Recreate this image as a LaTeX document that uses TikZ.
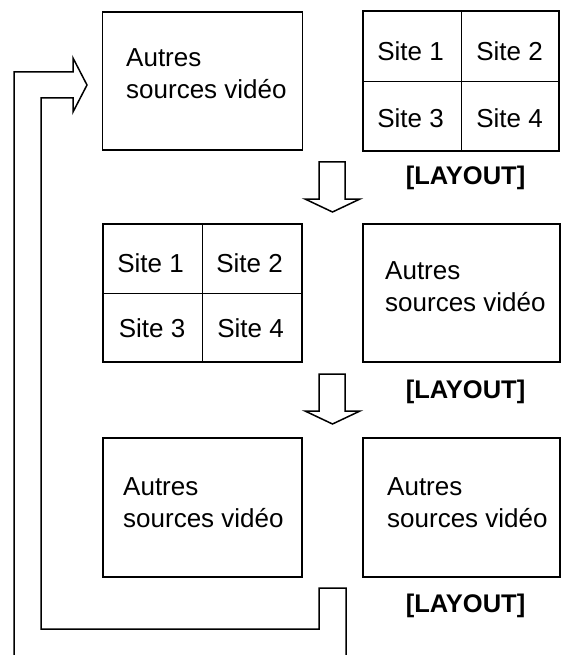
\documentclass[tikz,border=0pt]{standalone}
\usepackage{fontspec}
\setmainfont{Liberation Sans}
\begin{document}
\begin{tikzpicture}[x=1pt,y=-1pt,
  screen/.style={draw, line width=1.8pt, rectangle, inner sep=0pt, minimum height=138pt},
  divider/.style={line width=0.8pt},
  blockarrow/.style={draw, line width=1.5pt, line join=miter, fill=white},
  txt/.style={font=\fontsize{26}{32}\selectfont, inner sep=0pt},
  srcs/.style={txt, anchor=north west, align=left},
  site/.style={txt, anchor=base},
  layout/.style={font=\fontsize{25.5}{30}\selectfont\bfseries, inner sep=0pt, anchor=base}]
\useasboundingbox (0,0) rectangle (563,655);

% row 1
\node[screen, minimum width=200pt] (a) at (202.5,81) {};
\node[screen, minimum width=196pt, minimum height=140pt] (g1) at (461,81) {};
\draw[divider] (g1.north) -- (g1.south);
\draw[divider] (g1.west) -- (g1.east);
\node[srcs] (ta) at (126,48.5) {Autres\\sources vidéo};
\node[site] (s11) at (410.5,61) {Site 1};
\node[site] (s12) at (509.5,61) {Site 2};
\node[site] (s13) at (410.5,128) {Site 3};
\node[site] (s14) at (509.5,128) {Site 4};
\node[layout] (l1) at (465.5,185) {[LAYOUT]};

% row 2
\node[screen, minimum width=199pt] (g2) at (202.5,293) {};
\draw[divider] (g2.north) -- (g2.south);
\draw[divider] (g2.west) -- (g2.east);
\node[site] (s21) at (150.5,272) {Site 1};
\node[site] (s22) at (249.5,272) {Site 2};
\node[site] (s23) at (152,337) {Site 3};
\node[site] (s24) at (250.5,337) {Site 4};
\node[screen, minimum width=197pt] (b) at (461.5,293) {};
\node[srcs] (tb) at (385,261.5) {Autres\\sources vidéo};
\node[layout] (l2) at (465.5,398) {[LAYOUT]};

% row 3
\node[screen, minimum width=199pt, minimum height=139pt] (c) at (202.5,507.5) {};
\node[srcs] (tc) at (123,477.5) {Autres\\sources vidéo};
\node[screen, minimum width=197pt, minimum height=139pt] (d) at (461.5,507.5) {};
\node[srcs] (td) at (387,477.5) {Autres\\sources vidéo};
\node[layout] (l3) at (465.5,612.5) {[LAYOUT]};

% down arrows
\draw[blockarrow] (319,162) -- (345,162) -- (345,199) -- (360,199) -- (332.5,212)
  -- (305,199) -- (319,199) -- cycle;
\draw[blockarrow] (319,374) -- (345,374) -- (345,411) -- (360,411) -- (332.5,424)
  -- (305,411) -- (319,411) -- cycle;

% feedback arrow
\draw[line width=1.5pt, line join=miter] (346,655) -- (346,588) -- (319,588) -- (319,629)
  -- (41,629) -- (41,98) -- (73,98) -- (73,112) -- (87,85) -- (73,58) -- (73,72)
  -- (14,72) -- (14,655);
\end{tikzpicture}
\end{document}
